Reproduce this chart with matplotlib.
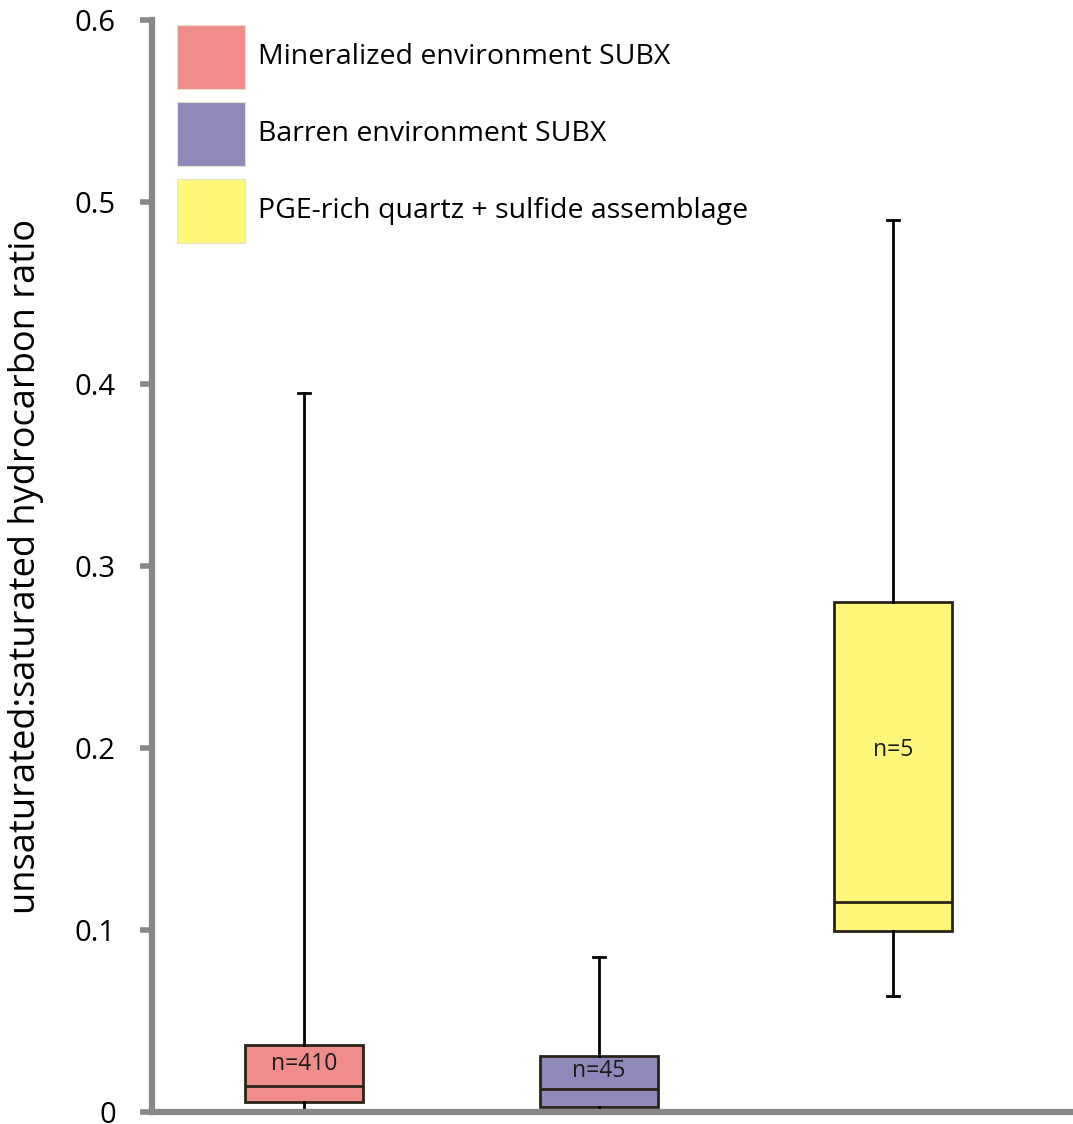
import matplotlib
matplotlib.use("Agg")
import matplotlib.pyplot as plt
from matplotlib.patches import Rectangle

plt.rcParams["font.family"] = ["Open Sans", "DejaVu Sans"]

groups = ["Mineralized environment SUBX", "Barren environment SUBX",
          "PGE-rich quartz + sulfide assemblage"]
counts = [410, 45, 5]
whisker_low = [0.0, 0.0, 0.064]
q1 = [0.0055, 0.0027, 0.0995]
median = [0.0143, 0.0126, 0.1154]
q3 = [0.0368, 0.0308, 0.280]
whisker_high = [0.395, 0.085, 0.490]
colors = ["#EE8D89", "#8F88B8", "#FFF77A"]

W, H = 1073, 1124
fig = plt.figure(figsize=(W / 100, H / 100), dpi=100)
ax = fig.add_axes([152 / W, 12 / H, 1 - 152 / W, 1092 / H])

stats = []
for i in range(len(groups)):
    stats.append({
        "whislo": whisker_low[i], "q1": q1[i], "med": median[i],
        "q3": q3[i], "whishi": whisker_high[i], "fliers": [],
    })

positions = [1, 2, 3]
bp = ax.bxp(stats, positions=positions, widths=0.4, patch_artist=True,
            showfliers=False,
            boxprops=dict(linewidth=2, edgecolor="#2a2418"),
            medianprops=dict(color="#2a2418", linewidth=2),
            whiskerprops=dict(color="black", linewidth=2),
            capprops=dict(color="black", linewidth=2),
            capwidths=0.04)
for patch, c in zip(bp["boxes"], colors):
    patch.set_facecolor(c)

# sample sizes written inside each box, above the median
for p, n, m, t in zip(positions, counts, median, q3):
    ax.text(p, (m + t) / 2 + 0.001, f"n={n}", ha="center", va="center",
            fontsize=16.5, color="#1a1a1a")

ax.set_xlim(0.484, 3.61)
ax.set_ylim(0, 0.6)
ax.set_yticks([0, 0.1, 0.2, 0.3, 0.4, 0.5, 0.6])
ax.set_yticklabels(["0", "0.1", "0.2", "0.3", "0.4", "0.5", "0.6"])
ax.set_xticks([])
ax.tick_params(axis="y", length=9, width=4, color="#888888",
               labelsize=21, pad=17)
for side in ["top", "right"]:
    ax.spines[side].set_visible(False)
for side in ["left", "bottom"]:
    ax.spines[side].set_color("#888888")
    ax.spines[side].set_linewidth(4.5)
ax.set_ylabel("unsaturated:saturated hydrocarbon ratio", fontsize=26)
ax.yaxis.set_label_coords((44 - 152) / (W - 152), 0.5)

# legend: colour swatches stacked in the upper left with labels beside them
sw_w, sw_h, step = 68, 64, 77
for i, (c, g) in enumerate(zip(colors, groups)):
    top = 25 + i * step
    fig.patches.append(Rectangle((177 / W, 1 - (top + sw_h) / H), sw_w / W,
                                 sw_h / H, transform=fig.transFigure,
                                 facecolor=c, edgecolor="#e8e0c8",
                                 linewidth=0.8))
    fig.text(258 / W, 1 - (top + sw_h / 2) / H, g, ha="left",
             va="center", fontsize=20.5)

fig.savefig("out.png", dpi=100)
